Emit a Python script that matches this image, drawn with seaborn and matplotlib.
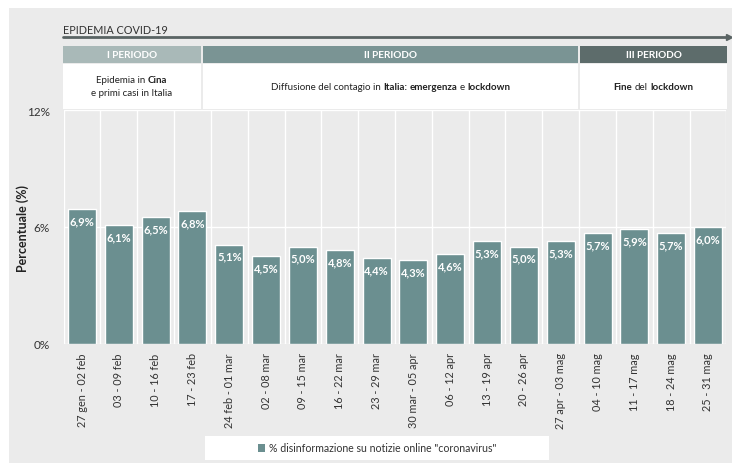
import matplotlib
matplotlib.use("Agg")
import matplotlib.pyplot as plt
import seaborn as sns
import pandas as pd
from matplotlib.patches import Rectangle
from matplotlib.lines import Line2D

# ---------------- data ----------------
weeks = ["27 gen - 02 feb", "03 - 09 feb", "10 - 16 feb", "17 - 23 feb",
         "24 feb - 01 mar", "02 - 08 mar", "09 - 15 mar", "16 - 22 mar",
         "23 - 29 mar", "30 mar - 05 apr", "06 - 12 apr", "13 - 19 apr",
         "20 - 26 apr", "27 apr - 03 mag", "04 - 10 mag", "11 - 17 mag",
         "18 - 24 mag", "25 - 31 mag"]
values = [6.9, 6.1, 6.5, 6.8, 5.1, 4.5, 5.0, 4.8, 4.4, 4.3, 4.6, 5.3,
          5.0, 5.3, 5.7, 5.9, 5.7, 6.0]
yticks = [0, 6, 12]
ytick_labels = ["0%", "6%", "12%"]
series_name = '% disinformazione su notizie online "coronavirus"'
periods = ["I PERIODO", "II PERIODO", "III PERIODO"]
period_desc = [
    [[("Epidemia in", False), ("Cina", True)], [("e primi casi in Italia", False)]],
    [[("Diffusione del contagio in", False), ("Italia:", True), ("emergenza", True),
      ("e", False), ("lockdown", True)]],
    [[("Fine", True), ("del", False), ("lockdown", True)]],
]
title = "EPIDEMIA COVID-19"
ylabel = "Percentuale (%)"

# ---------------- style ----------------
W, H = 732, 464
BG = "#ebebeb"
BAR = "#6b8f90"
HEAD_COLORS = ["#a9b9b8", "#7a9494", "#5d6c6b"]
LINE = "#5a6464"
FONT = ["Lato", "DejaVu Sans"]

sns.set_theme(style="white")
plt.rcParams["font.family"] = FONT

fig = plt.figure(figsize=(W / 100, H / 100), dpi=100)
fig.patch.set_facecolor("white")
fig.add_artist(Rectangle((9 / W, 0), 1 - 9 / W, 1 - 9 / H, transform=fig.transFigure,
                         facecolor=BG, edgecolor="none", zorder=0))

def fx(px):
    return px / W

def fy(py):
    return 1 - py / H

ax_left, ax_right = 63.6, 726.4
ax = fig.add_axes([fx(ax_left), fy(345), (ax_right - ax_left) / W, (345 - 111) / H])
ax.set_facecolor("none")

df = pd.DataFrame({"settimana": weeks, "valore": values})
sns.barplot(data=df, x="settimana", y="valore", color=BAR, saturation=1,
            width=0.76, ax=ax, zorder=3)

ax.set_ylim(0, 12)
ax.set_xlim(-0.5, len(weeks) - 0.5)
ax.set_yticks(yticks)
ax.set_yticklabels(ytick_labels, fontsize=8.5, color="#333333")
ax.tick_params(axis="y", length=4, width=1, color="white", pad=6)
ax.set_xticks(range(len(weeks)))
ax.set_xticklabels(weeks, rotation=90, fontsize=7.8, color="#333333")
ax.tick_params(axis="x", length=0, pad=6)
ax.set_xticks([i + 0.5 for i in range(-1, len(weeks))], minor=True)
ax.tick_params(axis="x", which="minor", length=3, color="white", width=1)
ax.grid(False)
for yv in yticks:
    ax.axhline(yv, color="white", lw=1, zorder=1)
for i in range(-1, len(weeks)):
    ax.axvline(i + 0.5, color="white", lw=1, zorder=1)
for s in ax.spines.values():
    s.set_visible(False)
ax.set_xlabel("")
ax.set_ylabel(ylabel, fontsize=9, fontweight="bold", color="#222222")
ax.yaxis.set_label_coords((29 - ax_left) / (ax_right - ax_left), 0.5)

# value labels
for i, v in enumerate(values):
    ax.annotate(f"{v:.1f}%".replace(".", ","), xy=(i, v), xytext=(0, -4.5),
                textcoords="offset points", ha="center", va="top",
                color="white", fontsize=8, fontweight="bold", zorder=4)

# legend
fig.add_artist(Rectangle((fx(205), fy(461)), (549 - 205) / W, (461 - 437) / H,
                         transform=fig.transFigure, facecolor="white",
                         edgecolor="none", zorder=1))
handle = Rectangle((0, 0), 1, 1, facecolor=BAR, edgecolor="none")
leg = fig.legend([handle], [series_name], loc="center",
                 bbox_to_anchor=(fx(377), fy(449)), frameon=False,
                 fontsize=7.6, handlelength=0.7, handleheight=0.7,
                 handletextpad=0.3, borderaxespad=0)
for t in leg.get_texts():
    t.set_color("#333333")

# title + arrow line
fig.text(fx(63), fy(30), title, fontsize=7.8, color="#333333", va="center", ha="left")
fig.add_artist(Line2D([fx(63), fx(728)], [fy(38), fy(38)], color=LINE, lw=2,
                      transform=fig.transFigure))
fig.add_artist(Line2D([fx(729)], [fy(38)], marker=">", markersize=4, color=LINE,
                      transform=fig.transFigure))

# period headers
bounds = [(63, 201), (203, 578), (580, 727)]
for (x0, x1), name, col in zip(bounds, periods, HEAD_COLORS):
    fig.add_artist(Rectangle((fx(x0), fy(64)), (x1 - x0) / W, (64 - 47) / H,
                             transform=fig.transFigure, facecolor=col,
                             edgecolor="none"))
    fig.text(fx((x0 + x1) / 2), fy(55.5), name, fontsize=7.2, fontweight="bold",
             color="white", ha="center", va="center")
    fig.add_artist(Rectangle((fx(x0), fy(110)), (x1 - x0) / W, (110 - 65) / H,
                             transform=fig.transFigure, facecolor="white",
                             edgecolor="none"))

# rich description texts
fig.canvas.draw()
renderer = fig.canvas.get_renderer()

DSIZE = 7

def measure(s, bold, size):
    t = fig.text(0, 0, s, fontsize=size, fontweight="bold" if bold else "normal")
    w = t.get_window_extent(renderer).width
    t.remove()
    return w

space_w = measure("a a", False, DSIZE) - measure("aa", False, DSIZE)

def rich_line(xc, yc, segs):
    widths = [measure(s, b, DSIZE) for s, b in segs]
    total = sum(widths) + space_w * (len(segs) - 1)
    x = xc - total / 2
    for (s, b), w in zip(segs, widths):
        fig.text(x / W, fy(yc), s, fontsize=DSIZE,
                 fontweight="bold" if b else "normal",
                 color="#222222", ha="left", va="center")
        x += w + space_w

for (x0, x1), lines in zip(bounds, period_desc):
    xc = (x0 + x1) / 2
    n = len(lines)
    yc0 = 87 - (n - 1) * 6.5
    for k, segs in enumerate(lines):
        rich_line(xc, yc0 + k * 13, segs)

fig.savefig("out.png", dpi=100, facecolor=fig.get_facecolor())
